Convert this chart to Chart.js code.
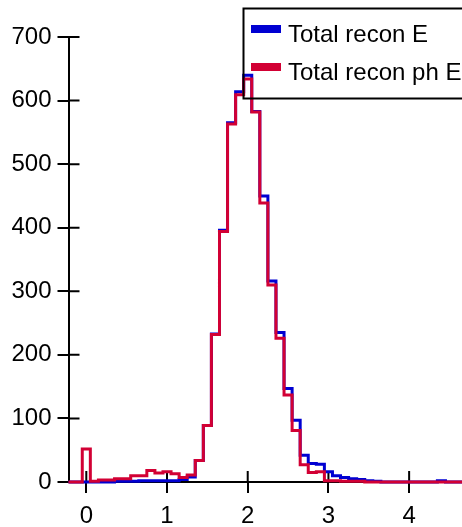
<!DOCTYPE html>
<html>
<head>
<meta charset="utf-8">
<script src="https://cdn.jsdelivr.net/npm/chart.js@4/dist/chart.umd.min.js"></script>
<style>
  body { margin: 0; background: #fff; }
</style>
</head>
<body>
<canvas id="histo" width="462" height="527"></canvas>
<script>
// bin centres (width 0.1)
const binCenters = [-0.2, -0.1, 0.0, 0.1, 0.2, 0.3, 0.4, 0.5, 0.6, 0.7,
  0.8, 0.9, 1.0, 1.1, 1.2, 1.3, 1.4, 1.5, 1.6, 1.7,
  1.8, 1.9, 2.0, 2.1, 2.2, 2.3, 2.4, 2.5, 2.6, 2.7,
  2.8, 2.9, 3.0, 3.1, 3.2, 3.3, 3.4, 3.5, 3.6, 3.7,
  3.8, 3.9, 4.0, 4.1, 4.2, 4.3, 4.4, 4.5, 4.6, 4.7];
const binWidth = 0.1;

const totalReconE = [0, 0, 0, 0, 0, 0, 1, 1, 1, 2,
  2, 2, 2, 2, 4, 8, 34, 89, 233, 396,
  565, 614, 640, 583, 450, 316, 235, 147, 97, 42,
  29, 28, 16, 10, 7, 5, 4, 2, 1, 0,
  0, 0, 0, 0, 0, 0, 2, 0, 0, 0];
const totalReconPhE = [0, 0, 52, 1, 3, 3, 5, 5, 10, 10,
  18, 14, 16, 13, 7, 11, 34, 89, 232, 394,
  563, 609, 634, 582, 439, 310, 226, 137, 81, 27,
  15, 16, 2, 2, 1, 1, 1, 0, 0, 0,
  0, 0, 0, 0, 0, 0, 0, 0, 0, 0];

const seriesNames = ['Total recon E', 'Total recon ph E'];
const xTickValues = [0, 1, 2, 3, 4];
const yTickValues = [0, 100, 200, 300, 400, 500, 600, 700];

const BLUE = '#0000d2';
const RED = '#d20034';
const FONT = "'Liberation Sans', Arial, Helvetica, sans-serif";

// outline of a histogram: one point per left bin edge + closing right edge
function stepPoints(values) {
  const pts = values.map((v, i) => ({ x: binCenters[i] - binWidth / 2, y: v }));
  const last = binCenters.length - 1;
  pts.push({ x: binCenters[last] + binWidth / 2, y: values[last] });
  return pts;
}

// ROOT style ticks cross the axis, chart.js only draws the outer half
const innerTicks = {
  id: 'innerTicks',
  beforeDatasetsDraw(chart) {
    const { ctx, chartArea, scales } = chart;
    ctx.save();
    ctx.strokeStyle = '#000';
    ctx.lineWidth = 2;
    ctx.beginPath();
    xTickValues.forEach(v => {
      const px = scales.x.getPixelForValue(v);
      ctx.moveTo(px, chartArea.bottom);
      ctx.lineTo(px, chartArea.bottom - 11);
    });
    yTickValues.forEach(v => {
      const py = scales.y.getPixelForValue(v);
      ctx.moveTo(chartArea.left, py);
      ctx.lineTo(chartArea.left + 11, py);
    });
    ctx.stroke();
    ctx.restore();
  }
};

// legend box in the top right corner, no fill
const legendBox = {
  id: 'legendBox',
  afterDraw(chart) {
    const ctx = chart.ctx;
    ctx.save();
    ctx.strokeStyle = '#000';
    ctx.lineWidth = 2;
    ctx.strokeRect(243.5, 8.5, 260, 90);
    ctx.font = '24px ' + FONT;
    ctx.textBaseline = 'alphabetic';
    ctx.fillStyle = '#000';
    seriesNames.forEach((name, i) => {
      const ds = chart.data.datasets.find(d => d.label === name);
      const cy = 29 + i * 38;
      ctx.fillStyle = ds.borderColor;
      ctx.fillRect(251, cy - 4, 30, 8);
      ctx.fillStyle = '#000';
      ctx.fillText(name, 288, cy + 13);
    });
    ctx.restore();
  }
};

new Chart(document.getElementById('histo'), {
  type: 'line',
  data: {
    datasets: [
      {
        label: seriesNames[0],
        data: stepPoints(totalReconE),
        borderColor: BLUE,
        borderWidth: 3,
        stepped: 'before',
        pointRadius: 0,
        fill: false,
        order: 2,
        clip: { left: 0, right: 0, top: 5, bottom: 5 }
      },
      {
        label: seriesNames[1],
        data: stepPoints(totalReconPhE),
        borderColor: RED,
        borderWidth: 3,
        stepped: 'before',
        pointRadius: 0,
        fill: false,
        order: 1,
        clip: { left: 0, right: 0, top: 5, bottom: 5 }
      }
    ]
  },
  options: {
    responsive: false,
    animation: false,
    layout: { padding: { top: 37, right: 0, left: 0, bottom: 0 } },
    plugins: {
      legend: { display: false },
      tooltip: { enabled: false }
    },
    scales: {
      x: {
        type: 'linear',
        min: -0.2206,
        max: 4.655,
        afterFit: s => { s.height = 45; },
        afterBuildTicks: s => { s.ticks = xTickValues.map(v => ({ value: v })); },
        border: { display: true, color: '#000', width: 2 },
        grid: { drawOnChartArea: false, drawTicks: true, tickLength: 11, color: '#000', lineWidth: 2 },
        ticks: { autoSkip: false, maxRotation: 0, padding: 9, color: '#000', font: { family: FONT, size: 24 } }
      },
      y: {
        type: 'linear',
        min: 0,
        max: 700,
        afterFit: s => { s.width = 68.5; },
        afterBuildTicks: s => { s.ticks = yTickValues.map(v => ({ value: v })); },
        border: { display: true, color: '#000', width: 2 },
        grid: { drawOnChartArea: false, drawTicks: true, tickLength: 11, color: '#000', lineWidth: 2 },
        ticks: { padding: 6, color: '#000', font: { family: FONT, size: 24 } }
      }
    }
  },
  plugins: [innerTicks, legendBox]
});
</script>
</body>
</html>
